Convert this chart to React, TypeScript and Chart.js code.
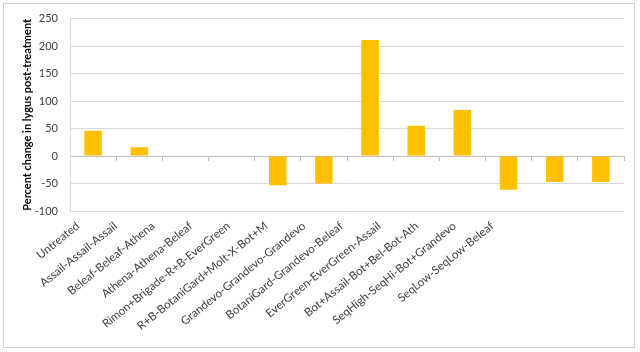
import React, { useEffect, useRef } from "react";
import { Chart, registerables } from "chart.js";

Chart.register(...registerables);

const categories = [
  "Untreated",
  "Assail-Assail-Assail",
  "Beleaf-Beleaf-Athena",
  "Athena-Athena-Beleaf",
  "Rimon+Brigade-R+B-EverGreen",
  "R+B-BotaniGard+Molt-X-Bot+M",
  "Grandevo-Grandevo-Grandevo",
  "BotaniGard-Grandevo-Beleaf",
  "EverGreen-EverGreen-Assail",
  "Bot+Assail-Bot+Bel-Bot-Ath",
  "SeqHigh-SeqHi-Bot+Grandevo",
  "SeqLow-SeqLow-Beleaf",
];
const percentChange = [46, 16, 0, 0, -53, -50, 211, 55, 84, -61, -47, -47];
const yTitle = "Percent change in lygus post-treatment";

// the category labels in the reference are set tighter than the bars
const labelSpanRatio = 0.816;

const squashLabels = {
  id: "squashLabels",
  afterLayout(chart: any) {
    const s = chart.scales.xl;
    if (!s) return;
    s.right = s.left + (s.right - s.left) * labelSpanRatio;
    s.width = s.right - s.left;
    s.configure();
  },
};

export default function App() {
  const ref = useRef<HTMLCanvasElement>(null);
  useEffect(() => {
    const chart = new Chart(ref.current!, {
      type: "bar",
      data: {
        labels: categories,
        datasets: [
          {
            data: percentChange,
            backgroundColor: "#FFC000",
            barPercentage: 0.38,
            categoryPercentage: 1,
            xAxisID: "x",
            yAxisID: "y",
          },
        ],
      },
      plugins: [squashLabels],
      options: {
        animation: false,
        responsive: false,
        layout: { padding: { left: 17, right: 16, top: 8, bottom: 11 } },
        plugins: { legend: { display: false }, tooltip: { enabled: false } },
        scales: {
          x: {
            type: "category",
            position: { y: 0 } as any,
            offset: true,
            grid: {
              display: true,
              drawOnChartArea: false,
              offset: true,
              tickLength: 4,
              color: "#bfbfbf",
            },
            border: { display: true, color: "#bfbfbf" },
            ticks: { display: false },
          } as any,
          xl: {
            type: "category",
            labels: categories,
            position: "bottom",
            offset: true,
            grid: { display: false, drawTicks: false },
            border: { display: false },
            ticks: {
              minRotation: 39,
              maxRotation: 39,
              color: "#404040",
              font: { family: "Lato", size: 11.5 },
              padding: 8,
              labelOffset: -11,
            },
            afterFit: (scale: any) => {
              scale.paddingLeft = 0;
              scale.paddingRight = 0;
            },
          } as any,
          y: {
            min: -100,
            max: 250,
            ticks: {
              stepSize: 50,
              color: "#404040",
              font: { family: "Lato", size: 11 },
              padding: 12,
            },
            grid: { color: "#d9d9d9", drawTicks: false },
            border: { display: true, color: "#d9d9d9" },
            title: {
              display: true,
              text: yTitle,
              color: "#000000",
              font: { family: "Lato", size: 11, weight: "bold" },
              padding: 4,
            },
            afterFit: (scale: any) => {
              scale.width = 53;
            },
          } as any,
        },
      },
    });
    return () => chart.destroy();
  }, []);
  return (
    <div style={{ position: "fixed", left: 0, top: 0, width: 640, height: 352, background: "#fff" }}>
      <div
        style={{
          position: "absolute",
          left: 3,
          top: 3,
          width: 632,
          height: 345,
          border: "1px solid #d0d0d0",
          boxSizing: "border-box",
        }}
      />
      <canvas ref={ref} width={640} height={352} style={{ position: "absolute", left: 0, top: 0 }} />
    </div>
  );
}
